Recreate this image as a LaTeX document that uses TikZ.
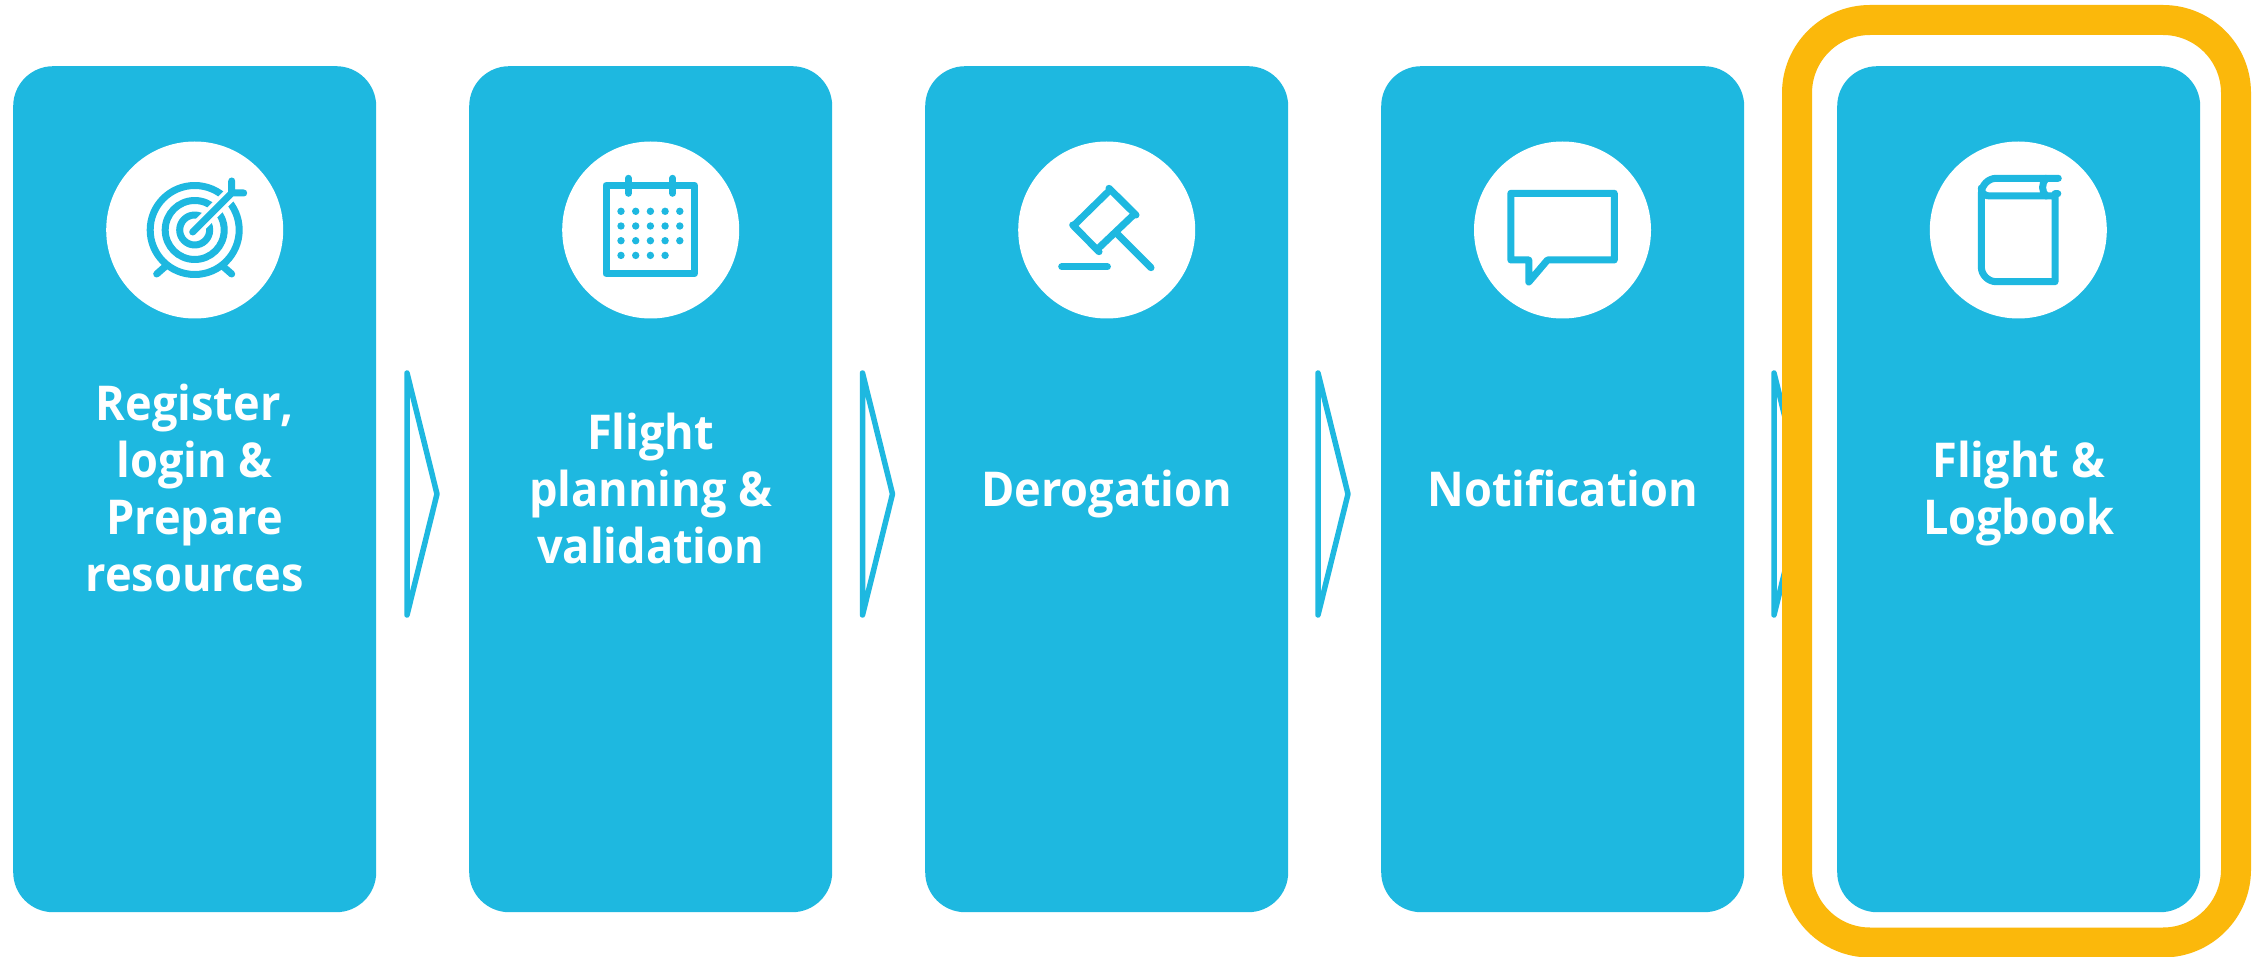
\documentclass[tikz,border=0pt]{standalone}
\usepackage{fontspec}
\setmainfont{Open Sans}[FakeStretch=0.94]
\definecolor{cardblue}{HTML}{1EB8E0}
\definecolor{ringgold}{HTML}{FBB80B}
\newcommand{\tline}[1]{\rule{0pt}{34pt}\smash{#1}}
\tikzset{
  card/.style={draw=none,fill=cardblue,rounded corners=40pt,minimum width=363pt,minimum height=846pt,inner sep=0pt,anchor=north west,
    text=white,align=center,font=\fontsize{48}{57}\selectfont\bfseries},
  disc/.style={circle,fill=white,draw=none,minimum size=177pt,inner sep=0pt},
  icon/.style={draw=cardblue,line width=7pt,line cap=round,line join=round},
  chevron/.style={draw=cardblue,line width=5.5pt,line cap=round,line join=round,fill=white},
  ring/.style={draw=ringgold,line width=30pt,rounded corners=73pt},
}
\begin{document}
\begin{tikzpicture}[x=1pt,y=-1pt]
\useasboundingbox[fill=white] (0,0) rectangle (2262,957);
\node[card] (c1) at (13,66) {\tline{Register,}\\\tline{login \&}\\\tline{Prepare}\\\tline{resources}};
\node[card] (c2) at (469,66) {\tline{Flight}\\\tline{planning \&}\\\tline{validation}};
\node[card] (c3) at (925,66) {\tline{Derogation}};
\node[card] (c4) at (1381,66) {\tline{Notification}};
\node[card] (c5) at (1837,66) {\tline{Flight \&}\\\tline{Logbook}};
\foreach \n/\x in {d1/194.7,d2/650.7,d3/1106.7,d4/1562.5,d5/2018.3}
  \node[disc] (\n) at (\x,230) {};
% chevrons
\foreach \x in {407,862.5,1318,1774}
  \draw[chevron] (\x,373) -- (\x,615) -- (\x+30,494) -- cycle;
% ring
\draw[ring] (1797,20) rectangle (2236,942.5);
% target icon
\begin{scope}[shift={(d1.center)}]
  \foreach \r in {44.5,29.5,15}
    \draw[icon,line cap=butt] (0,0) circle (\r);
  \draw[white,line width=14pt] (6,-6) -- (34,-34);
  \draw[icon] (-2,2) -- (37,-37) (37,-49) -- (37,-37) -- (49,-37);
  \draw[icon] (-38,44) -- (-30,37) (37,44) -- (29,37);
\end{scope}
% calendar icon
\begin{scope}[shift={(d2.center)}]
  \draw[icon] (-44.7,-44.7) rectangle (43.7,43.7);
  \draw[icon] (-22.3,-51.7) -- (-22.3,-36.7) (22,-51.7) -- (22,-36.7);
  \foreach \c/\m in {0/5,1/5,2/5,3/4}
    \foreach \i in {1,...,\m}
      \fill[cardblue] (-44.4+14.7*\i,-18.7+14.7*\c) circle (3.7);
\end{scope}
% gavel icon
\begin{scope}[shift={(d3.center)}]
  \draw[icon] (-31.7,-5.7) -- (3.3,-40) (-8,18) -- (26.7,-15);
  \draw[icon] (2.3,-41.7) -- (29.3,-15) (-34,-5) -- (-7.7,21.7);
  \draw[icon] (10,3.3) -- (44.3,37.7);
  \draw[icon] (-45,36.7) -- (0.7,36.7);
\end{scope}
% speech bubble icon
\begin{scope}[shift={(d4.center)}]
  \draw[icon] (-51.7,-36.7) -- (51.8,-36.7) -- (51.8,30) -- (-15,30) -- (-33.7,52) -- (-33.7,30) -- (-51.7,30) -- cycle;
\end{scope}
% book icon
\begin{scope}[shift={(d5.center)}]
  \draw[icon] (40,-51.7) -- (-22,-51.7) .. controls (-30,-51.7) and (-37,-45) .. (-37,-36) -- (-37,37)
    .. controls (-37,45) and (-30,51.7) .. (-22,51.7) -- (36.7,51.7) -- (36.7,-34) -- (-28,-34)
    .. controls (-33,-34) and (-37,-36) .. (-37,-42);
  \draw[icon] (28,-51.7) .. controls (23,-47) and (23,-38) .. (28,-34);
  \draw[icon] (36.7,-36) -- (39.5,-36);
\end{scope}
\end{tikzpicture}
\end{document}
